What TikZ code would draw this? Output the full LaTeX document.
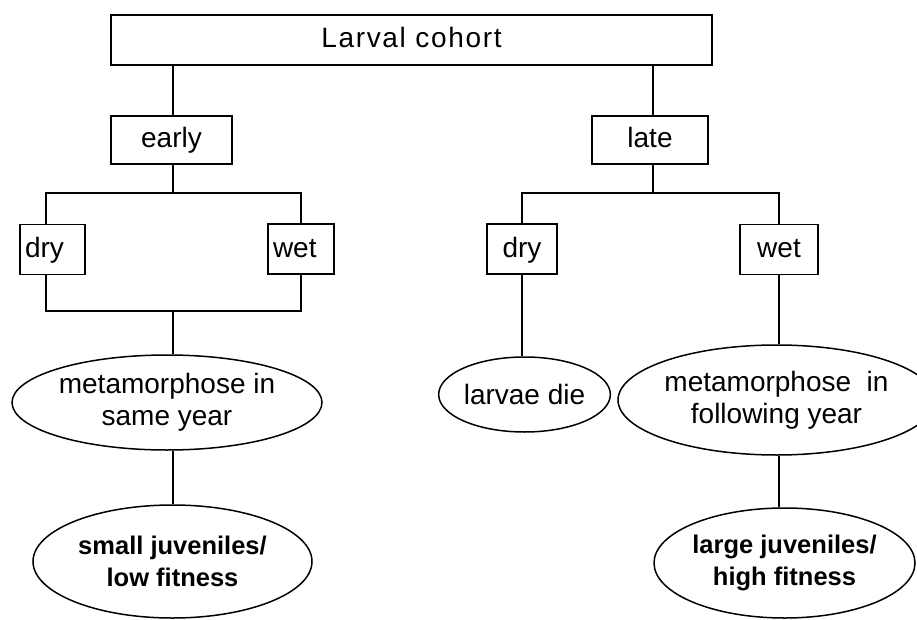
\documentclass[tikz,border=0pt]{standalone}
\usepackage{fontspec}
\setmainfont{Liberation Sans}
\usetikzlibrary{shapes.geometric}
\begin{document}
\begin{tikzpicture}[x=1pt, y=-1pt, line width=1.5pt, font=\fontsize{28}{32}\selectfont,
		box/.style={draw, rectangle, inner sep=0pt, minimum height=50, text height=21, text depth=5},
		oval/.style={draw, ellipse, inner sep=0pt, align=center},
		result/.style={oval, font=\fontsize{25.5}{32}\selectfont\bfseries}]
			\useasboundingbox (0,0) rectangle (917,620);
			\node[box, minimum width=601, font=\fontsize{28}{32}\selectfont\addfontfeature{LetterSpace=6}] (cohort) at (411.5,40) {Larval cohort};
			\node[box, minimum width=121, minimum height=48, text depth=6] (early) at (171.5,140) {early};
			\node[box, minimum width=116, minimum height=48] (late) at (650,140) {late};
			\node[box, minimum width=65, text width=55, align=left] (dryA) at (52.5,249.5) {dry};
			\node[box, minimum width=66, text width=56, align=left] (wetA) at (301,249) {wet};
			\node[box, minimum width=70] (dryB) at (522,249) {dry};
			\node[box, minimum width=78] (wetB) at (779,249.5) {wet};
			\node[oval, minimum width=310, minimum height=95] (sameyr) at (167,402.5) {metamorphose in\\same year};
			\node[oval, minimum width=157, minimum height=75] (die) at (524.5,394.5) {larvae die};
			\node[oval, minimum width=279, minimum height=110] (nextyr) at (776.5,400) {metamorphose\ \ in\\following year};
			\node[result, minimum width=279, minimum height=113] (small) at (172.5,561.5) {small juveniles/\\low fitness};
			\node[result, minimum width=261, minimum height=110] (large) at (784.5,563) {large juveniles/\\high fitness};
			\coordinate (esplit) at (173,193);
			\coordinate (ejoin) at (173,311);
			\coordinate (lsplit) at (653,193);
			\draw (early.north -| esplit) -- (cohort.south -| esplit);
			\draw (late.north -| lsplit) -- (cohort.south -| lsplit);
			\draw (early.south -| esplit) -- (esplit);
			\draw ([xshift=-6.5]dryA.north) |- (esplit) -| (wetA.north);
			\draw ([xshift=-6.5]dryA.south) |- (ejoin) -| (wetA.south);
			\draw (ejoin) -- (sameyr.north -| ejoin);
			\draw (sameyr.south -| ejoin) -- (small.north -| ejoin);
			\draw (late.south -| lsplit) -- (lsplit);
			\draw (dryB.north) |- (lsplit) -| (wetB.north);
			\draw (dryB.south) -- (dryB.south |- die.north);
			\draw (wetB.south) -- (wetB.south |- nextyr.north);
			\draw (nextyr.south -| wetB) -- (large.north -| wetB);
		\end{tikzpicture}
\end{document}
